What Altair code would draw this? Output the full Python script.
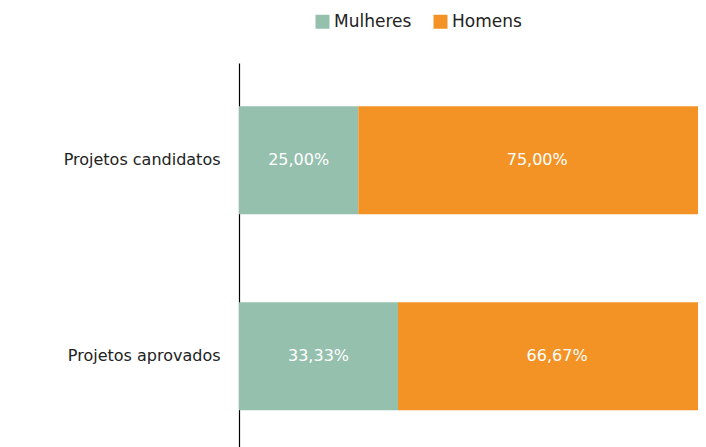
import altair as alt
import pandas as pd

categories = ["Projetos candidatos", "Projetos aprovados"]
groups = ["Mulheres", "Homens"]
mulheres = [25.00, 33.33]
homens = [75.00, 66.67]
colors = ["#95C0AE", "#F39325"]

rows = []
for i, c in enumerate(categories):
    for j, (g, v) in enumerate(zip(groups, [mulheres[i], homens[i]])):
        rows.append({"cat": c, "grupo": g, "ordem": j, "valor": v,
                     "rotulo": f"{v:.2f}".replace(".", ",") + "%"})
df = pd.DataFrame(rows)

base = alt.Chart(df).transform_stack(
    stack="valor", groupby=["cat"], as_=["v0", "v1"],
    sort=[alt.SortField("ordem", order="ascending")]
).transform_calculate(mid="(datum.v0 + datum.v1) / 2")

y = alt.Y("cat:N", sort=categories, title=None,
          scale=alt.Scale(paddingInner=0.449, paddingOuter=0.204, align=0.54),
          axis=alt.Axis(ticks=False, labelPadding=19, labelFontSize=16,
                        labelFont="DejaVu Sans", labelColor="#222222",
                        domainColor="#000000", domainWidth=1.2))

xscale = alt.Scale(domain=[0, 96.2], nice=False, zero=True)

bars = base.mark_bar(clip=True).encode(
    y=y,
    x=alt.X("v0:Q", scale=xscale, axis=None),
    x2="v1:Q",
    color=alt.Color("grupo:N", sort=groups,
                    scale=alt.Scale(domain=groups, range=colors),
                    legend=alt.Legend(title=None, orient="none", direction="horizontal",
                                      legendX=75, legendY=-50, padding=0,
                                      symbolType="square", symbolSize=196,
                                      symbolStrokeWidth=0, symbolOpacity=1,
                                      labelFontSize=17, labelFont="DejaVu Sans",
                                      labelColor="#222222", labelOffset=3,
                                      columnPadding=20)),
    order=alt.Order("ordem:Q"),
)

labels = base.mark_text(color="white", fontSize=16, font="DejaVu Sans").encode(
    y=alt.Y("cat:N", sort=categories),
    x=alt.X("mid:Q", scale=xscale),
    text="rotulo:N",
)

chart = alt.layer(bars, labels).properties(
    width=459, height=384,
    autosize=alt.AutoSizeParams(type="none"),
    padding={"left": 231, "top": 55, "right": 0, "bottom": 0},
).configure(background="white").configure_view(stroke=None)

chart.save("out.html", embed_options={"renderer": "svg", "actions": False})
